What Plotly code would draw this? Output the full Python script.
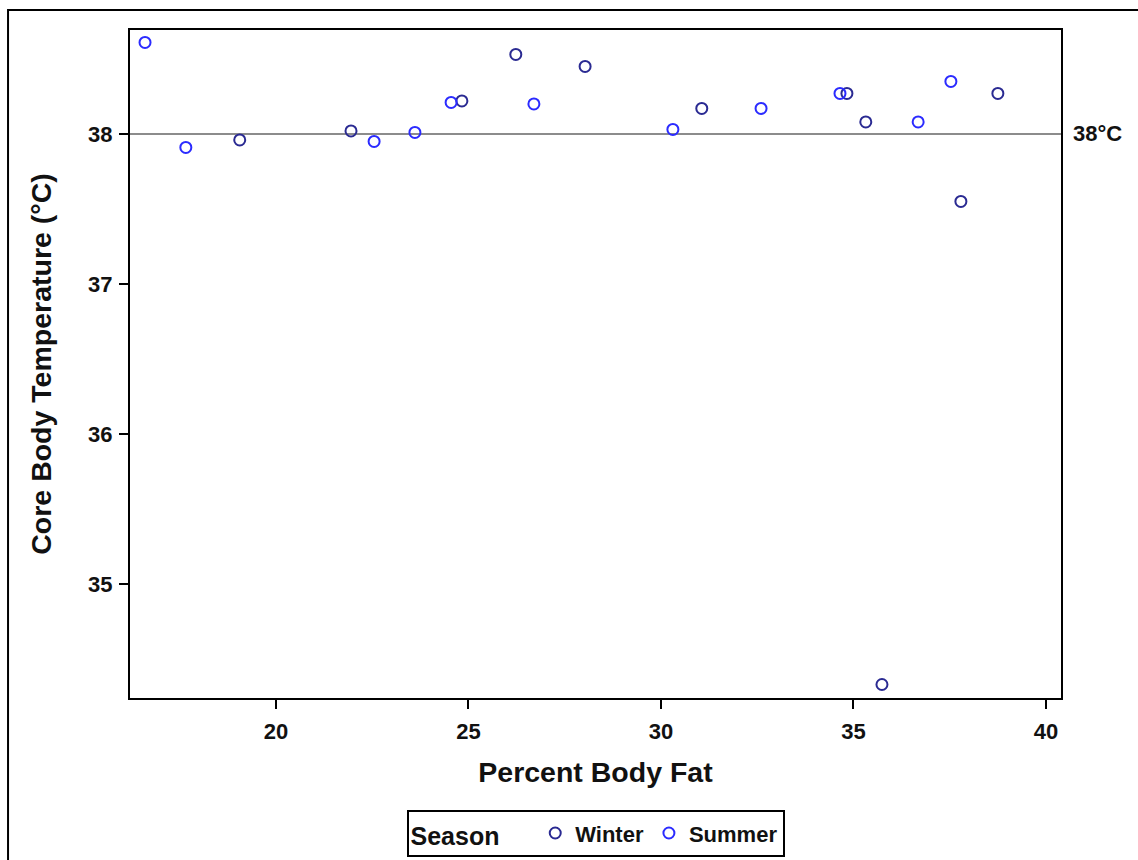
import plotly.graph_objects as go

# Percent body fat vs core body temperature, by season
winter_fat = [19.06, 21.95, 24.83, 26.23, 28.03, 31.06, 34.83, 35.32, 35.74, 37.79, 38.75]
winter_temp = [37.96, 38.02, 38.22, 38.53, 38.45, 38.17, 38.27, 38.08, 34.33, 37.55, 38.27]

summer_fat = [16.60, 17.66, 22.55, 23.61, 24.55, 26.70, 30.31, 32.60, 34.65, 36.68, 37.53]
summer_temp = [38.61, 37.91, 37.95, 38.01, 38.21, 38.20, 38.03, 38.17, 38.27, 38.08, 38.35]

x_ticks = [20, 25, 30, 35, 40]
y_ticks = [35, 36, 37, 38]
ref_temp = 38

FONT = "Liberation Sans, Arial, sans-serif"

fig = go.Figure()
fig.add_trace(go.Scatter(
    x=winter_fat, y=winter_temp, mode="markers", name="<b>Winter</b>",
    marker=dict(symbol="circle-open", size=11, color="#2a2a92", line=dict(width=2)),
))
fig.add_trace(go.Scatter(
    x=summer_fat, y=summer_temp, mode="markers", name="<b>Summer</b>",
    marker=dict(symbol="circle-open", size=11, color="#2b2bff", line=dict(width=2)),
))

# Reference line at 38 °C with a label outside the plot area
fig.add_shape(type="line", xref="paper", x0=0, x1=1, yref="y", y0=ref_temp, y1=ref_temp,
              line=dict(color="#8c8c8c", width=2), layer="below")
fig.add_annotation(xref="paper", x=1, yref="y", y=ref_temp, text="<b>38°C</b>",
                   showarrow=False, xanchor="left", xshift=10,
                   font=dict(family=FONT, size=22, color="#111"))

# Outer frame around the whole graph
fig.add_shape(type="rect", xref="paper", yref="paper",
              x0=-0.131, x1=1.1, y0=-0.27, y1=1.03,
              line=dict(color="black", width=2), layer="below")

axis_common = dict(
    showgrid=False, zeroline=False, showline=True, mirror=True,
    linecolor="black", linewidth=2, ticks="outside", ticklen=9, tickwidth=2,
    tickcolor="black", tickfont=dict(family=FONT, size=22, color="#111"),
    automargin=False,
)

fig.update_xaxes(
    range=[16.21, 40.39], tickvals=x_ticks, ticktext=[f"<b>{v}</b>" for v in x_ticks],
    ticklabelstandoff=4,
    title=dict(text="<b>Percent Body Fat</b>", font=dict(family=FONT, size=28.5, color="#111"),
               standoff=19),
    **axis_common,
)
fig.update_yaxes(
    range=[34.24, 38.693], tickvals=y_ticks, ticktext=[f"<b>{v}</b>" for v in y_ticks],
    ticklabelstandoff=2,
    title=dict(text="<b>Core Body Temperature (°C)</b>",
               font=dict(family=FONT, size=28.5, color="#111"), standoff=28),
    **axis_common,
)

fig.update_layout(
    width=1138, height=860,
    margin=dict(l=130, r=77, t=30, b=162, autoexpand=False),
    paper_bgcolor="white", plot_bgcolor="white",
    font=dict(family=FONT, color="#111"),
    showlegend=True,
    legend=dict(
        orientation="h", x=0.5, xanchor="center", y=-0.168, yanchor="top",
        title=dict(text="<b>Season</b>    ", font=dict(family=FONT, size=25, color="#111")),
        font=dict(family=FONT, size=22, color="#111"),
        bordercolor="black", borderwidth=2, bgcolor="white",
        itemwidth=30, tracegroupgap=0,
    ),
)

fig.write_html("out.html")
